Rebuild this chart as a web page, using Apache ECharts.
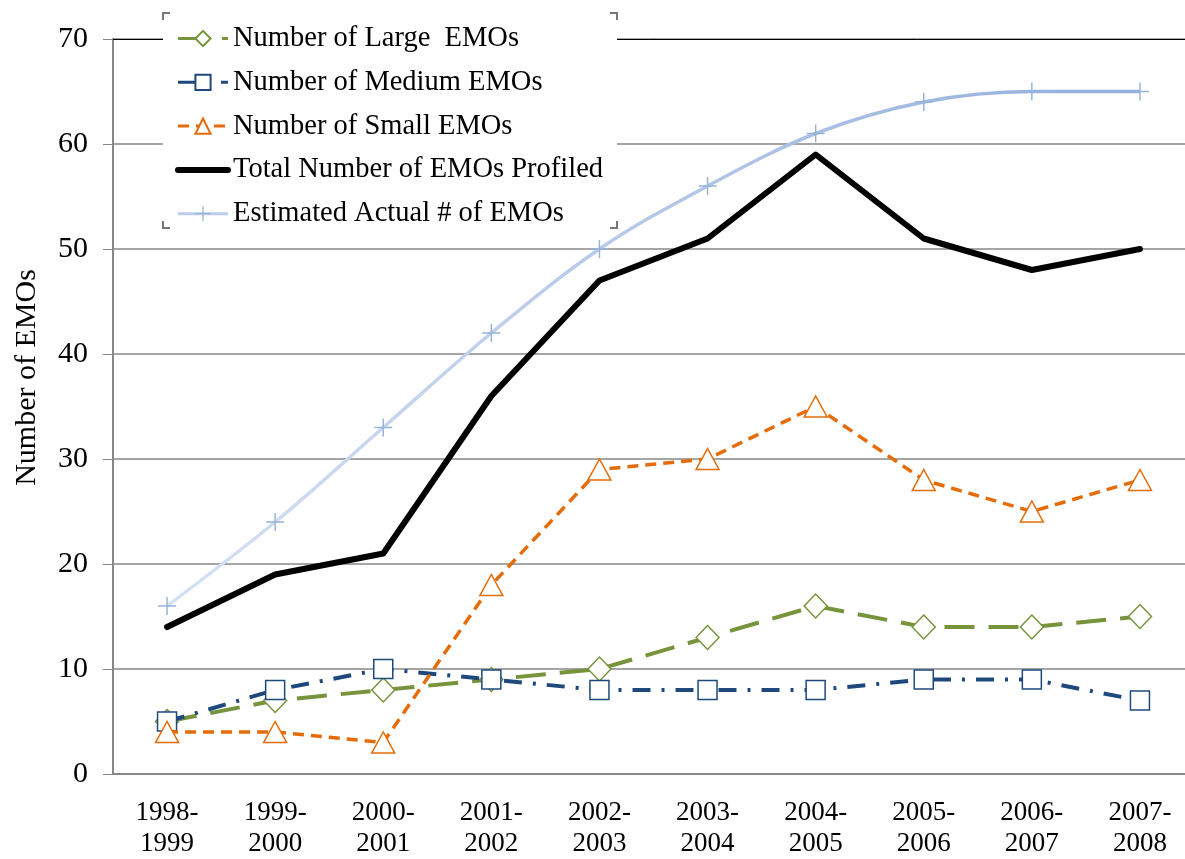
<!DOCTYPE html>
<html>
<head>
<meta charset="utf-8">
<script src="https://cdn.jsdelivr.net/npm/echarts@6/dist/echarts.min.js"></script>
<style>
  html, body { margin: 0; padding: 0; background: #fff; }
  #chart { width: 1185px; height: 859px; }
</style>
</head>
<body>
<div id="chart"></div>
<script>
var years = ['1998-\n1999', '1999-\n2000', '2000-\n2001', '2001-\n2002', '2002-\n2003',
  '2003-\n2004', '2004-\n2005', '2005-\n2006', '2006-\n2007', '2007-\n2008']
var largeEmos = [5, 7, 8, 9, 10, 13, 16, 14, 14, 15]
var mediumEmos = [5, 8, 10, 9, 8, 8, 8, 9, 9, 7]
var smallEmos = [4, 4, 3, 18, 29, 30, 35, 28, 25, 28]
var totalProfiled = [14, 19, 21, 36, 47, 51, 59, 51, 48, 50]
var estimatedActual = [16, 24, 33, 42, 50, 56, 61, 64, 65, 65]

var font = 'Liberation Serif'
var plusIcon = 'path://M4.6,0h0.8v10h-0.8z M0,4.6h10v0.8h-10z'
var estColor = new echarts.graphic.LinearGradient(0, 0, 1, 0, [
  { offset: 0, color: '#D6E1F3' },
  { offset: 1, color: '#93AEDD' }
])

var myChart = echarts.init(document.getElementById('chart'))
myChart.setOption({
  animation: false,
  textStyle: { fontFamily: font },
  grid: { left: 113, right: -9, top: 39, bottom: 85, outerBoundsMode: 'none', containLabel: false },
  legend: {
    orient: 'vertical',
    left: 163,
    top: 13,
    padding: [11, 14, 4, 12],
    backgroundColor: '#fff',
    itemWidth: 50,
    itemHeight: 19,
    itemGap: 14.8,
    textStyle: { fontFamily: font, fontSize: 28.5, color: '#000', lineHeight: 28 },
    data: [
      { name: 'Number of Large  EMOs', lineStyle: { width: 3 } },
      { name: 'Number of Medium EMOs', lineStyle: { width: 3 } },
      { name: 'Number of Small EMOs', lineStyle: { width: 3 } },
      { name: 'Total Number of EMOs Profiled', lineStyle: { width: 6, color: '#000' }, itemStyle: { color: 'rgba(0,0,0,0)', borderWidth: 0 } },
      { name: 'Estimated Actual # of EMOs', lineStyle: { width: 3, color: '#BCCDEB' } }
    ]
  },
  xAxis: [{
    type: 'category',
    data: years,
    boundaryGap: true,
    axisLine: { lineStyle: { color: '#878787', width: 2 } },
    axisTick: { show: false },
    axisLabel: { color: '#000', fontSize: 27, lineHeight: 31, margin: 23, fontFamily: font }
  }, {
    type: 'category',
    data: years,
    position: 'top',
    axisLine: { lineStyle: { color: '#000', width: 1 } },
    axisTick: { show: false },
    axisLabel: { show: false }
  }],
  yAxis: {
    type: 'value',
    min: 0,
    max: 70,
    interval: 10,
    name: 'Number of EMOs',
    nameLocation: 'middle',
    nameGap: 71,
    nameTextStyle: { color: '#000', fontSize: 30, fontFamily: font, padding: [0, 0, 0, 58] },
    axisLine: { show: true, lineStyle: { color: '#878787', width: 2 } },
    axisTick: { show: true, length: 10, lineStyle: { color: '#878787', width: 1 } },
    axisLabel: { color: '#000', fontSize: 30, margin: 25, fontFamily: font },
    splitLine: { lineStyle: { color: '#878787', width: 1.5 } }
  },
  series: [
    {
      name: 'Number of Large  EMOs',
      type: 'line',
      data: largeEmos,
      symbol: 'diamond',
      symbolSize: [23, 24],
      itemStyle: { color: '#fff', borderColor: '#77933C', borderWidth: 1.5 },
      lineStyle: { color: '#77933C', width: 4, type: [30, 14] },
      z: 2
    },
    {
      name: 'Number of Medium EMOs',
      type: 'line',
      data: mediumEmos,
      symbol: 'rect',
      symbolSize: 19,
      itemStyle: { color: '#fff', borderColor: '#1F497D', borderWidth: 1.5 },
      lineStyle: { color: '#1F497D', width: 4, type: [18, 11, 3, 11] },
      z: 3
    },
    {
      name: 'Number of Small EMOs',
      type: 'line',
      data: smallEmos,
      symbol: 'triangle',
      symbolSize: [23, 21],
      itemStyle: { color: '#fff', borderColor: '#E46C0A', borderWidth: 1.5 },
      lineStyle: { color: '#E46C0A', width: 3.5, type: [11, 7] },
      z: 4
    },
    {
      name: 'Total Number of EMOs Profiled',
      type: 'line',
      data: totalProfiled,
      symbol: 'none',
      itemStyle: { color: '#000' },
      lineStyle: { color: '#000', width: 6, join: 'round', cap: 'round' },
      z: 5
    },
    {
      name: 'Estimated Actual # of EMOs',
      type: 'line',
      data: estimatedActual,
      smooth: 0.35,
      symbol: plusIcon,
      symbolSize: 18,
      itemStyle: { color: '#95B3D7' },
      lineStyle: { color: estColor, width: 3.5 },
      z: 4
    }
  ],
  graphic: [
    { type: 'polyline', shape: { points: [[163, 20], [163, 13], [170, 13]] }, style: { stroke: '#777', fill: null, lineWidth: 2 }, z: 100 },
    { type: 'polyline', shape: { points: [[610, 13], [617, 13], [617, 20]] }, style: { stroke: '#777', fill: null, lineWidth: 2 }, z: 100 },
    { type: 'polyline', shape: { points: [[163, 221], [163, 228], [170, 228]] }, style: { stroke: '#777', fill: null, lineWidth: 2 }, z: 100 },
    { type: 'polyline', shape: { points: [[610, 228], [617, 228], [617, 221]] }, style: { stroke: '#777', fill: null, lineWidth: 2 }, z: 100 }
  ]
})
</script>
</body>
</html>
